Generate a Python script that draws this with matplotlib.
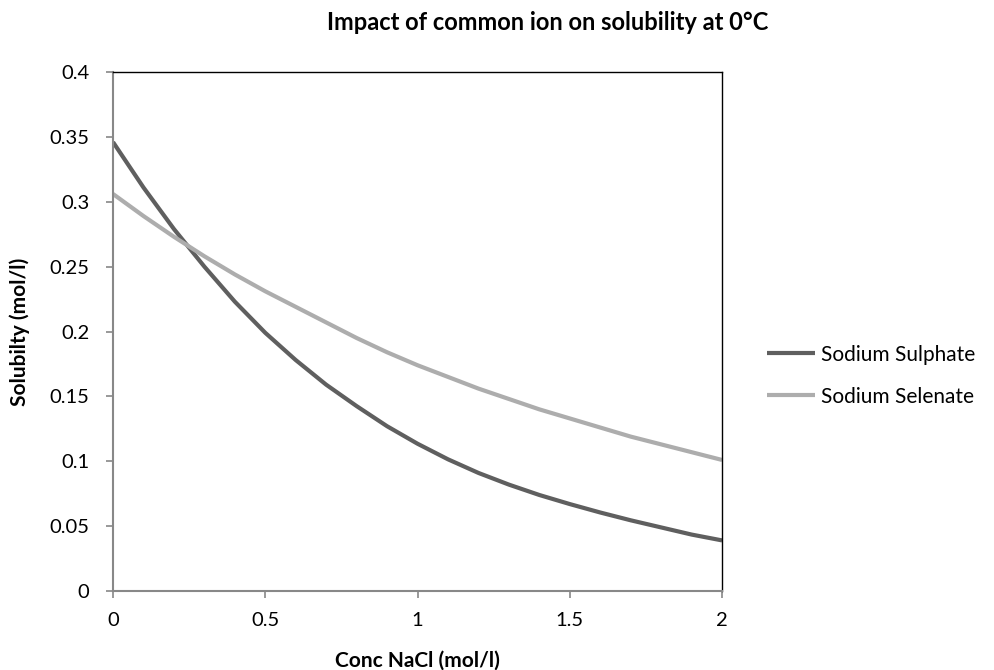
import matplotlib.pyplot as plt

plt.rcParams['font.family'] = ['Lato', 'DejaVu Sans']

# concentration NaCl (mol/l) and solubilities (mol/l)
conc_nacl = [0.0, 0.1, 0.2, 0.3, 0.4, 0.5, 0.6, 0.7, 0.8, 0.9, 1.0,
             1.1, 1.2, 1.3, 1.4, 1.5, 1.6, 1.7, 1.8, 1.9, 2.0]
sulphate = [0.346, 0.311, 0.279, 0.250, 0.223, 0.199, 0.178, 0.159, 0.1425, 0.127, 0.1135,
            0.1015, 0.091, 0.082, 0.074, 0.067, 0.0605, 0.0545, 0.049, 0.0435, 0.039]
selenate = [0.306, 0.289, 0.273, 0.258, 0.244, 0.231, 0.219, 0.207, 0.195, 0.184, 0.174,
            0.165, 0.156, 0.148, 0.140, 0.133, 0.126, 0.119, 0.113, 0.107, 0.101]

x_ticks = [0, 0.5, 1, 1.5, 2]
x_labels = ['0', '0.5', '1', '1.5', '2']
y_ticks = [0, 0.05, 0.1, 0.15, 0.2, 0.25, 0.3, 0.35, 0.4]
y_labels = ['0', '0.05', '0.1', '0.15', '0.2', '0.25', '0.3', '0.35', '0.4']

fig = plt.figure(figsize=(9.95, 6.7), dpi=100)
ax = fig.add_axes([0.1136, 0.1179, 0.6121, 0.7746])

ax.plot(conc_nacl, sulphate, color='#5f5f5f', lw=3, label='Sodium Sulphate',
        solid_capstyle='butt', solid_joinstyle='round')
ax.plot(conc_nacl, selenate, color='#adadad', lw=3, label='Sodium Selenate',
        solid_capstyle='butt', solid_joinstyle='round')

ax.set_xlim(0, 2)
ax.set_ylim(0, 0.4)
ax.set_xticks(x_ticks, x_labels)
ax.set_yticks(y_ticks, y_labels)
ax.tick_params(direction='out', length=5, width=1.2, color='#888888', labelsize=14.5)
ax.tick_params(axis='x', pad=10)
ax.tick_params(axis='y', pad=12)

for side in ['left', 'bottom']:
    ax.spines[side].set_color('#888888')
    ax.spines[side].set_linewidth(1.5)
for side in ['top', 'right']:
    ax.spines[side].set_color('black')
    ax.spines[side].set_linewidth(1.0)

ax.set_xlabel('Conc NaCl (mol/l)', fontsize=15, fontweight='bold', labelpad=16)
ax.set_ylabel('Solubilty (mol/l)', fontsize=15, fontweight='bold', labelpad=14)
# title is centred over the whole chart area, not the plot
ax.set_title('Impact of common ion on solubility at 0°C', fontsize=17, fontweight='bold',
             pad=30, x=0.714)

ax.legend(loc='center left', bbox_to_anchor=(1.074, 0.415), frameon=False, fontsize=15,
          handlelength=2.3, handletextpad=0.3, labelspacing=1.05,
          borderpad=0, borderaxespad=0)

fig.savefig('out.png', dpi=100)
